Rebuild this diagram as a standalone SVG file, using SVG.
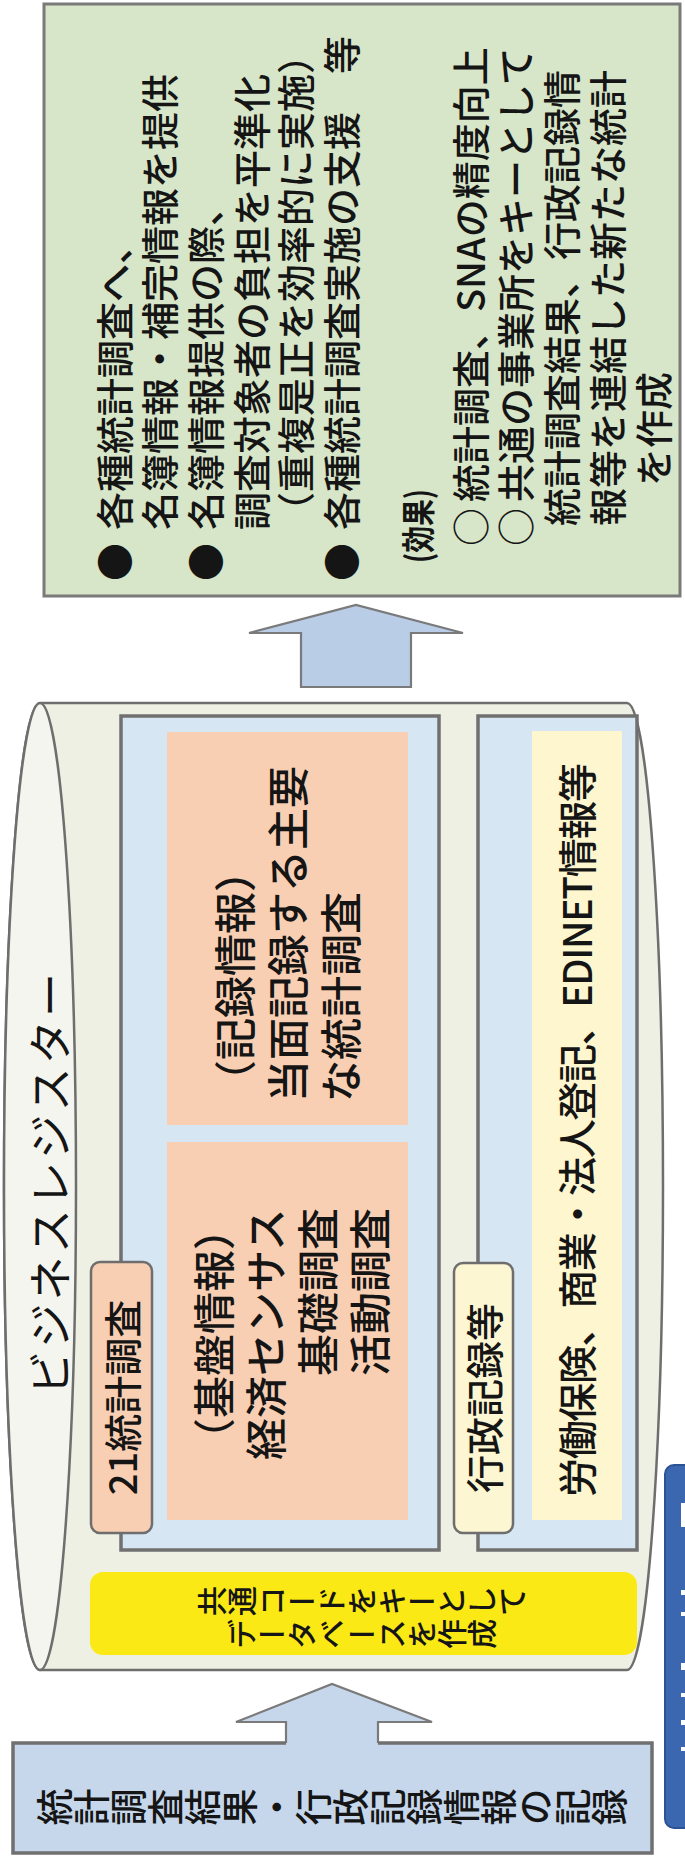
<svg xmlns="http://www.w3.org/2000/svg" width="685" height="1865" viewBox="0 0 685 1865">
<style>
.t{font-family:"Noto Sans CJK JP","Noto Sans CJK SC",sans-serif;fill:#151515;font-weight:500}
.v{writing-mode:vertical-rl;text-anchor:middle}
.box{stroke:#707070;stroke-width:3.5}
.arrow{fill:#b9cde6;stroke:#7a7a7a;stroke-width:2.2}
</style>
<rect width="685" height="1865" fill="#ffffff"/>

<g id="effects">
  <rect x="44" y="4" width="636" height="592" fill="#d7e5c8" stroke="#7a7a7a" stroke-width="3"/>
  <g transform="matrix(0,-1,1,0,0,1865)" class="t" font-size="38">
    <text x="1284" y="128.5">●</text>
    <text x="1335" y="128.5">各種統計調査へ、</text>
    <text x="1335" y="173.5">名簿情報・補完情報を提供</text>
    <text x="1284" y="219.5">●</text>
    <text x="1335" y="219.5">名簿情報提供の際、</text>
    <text x="1335" y="265.5">調査対象者の負担を平準化</text>
    <text x="1335" y="309.5">（重複是正を効率的に実施）</text>
    <text x="1284" y="355.5">●</text>
    <text x="1335" y="355.5">各種統計調査実施の支援　等</text>
    <text x="1302" y="431" font-size="34" font-weight="bold" textLength="74" lengthAdjust="spacingAndGlyphs">(効果)</text>
    <text x="1319" y="484.5">○</text>
    <text x="1363" y="484.5">統計調査、SNAの精度向上</text>
    <text x="1319" y="529.5">○</text>
    <text x="1363" y="529.5">共通の事業所をキーとして</text>
    <text x="1339" y="575.5">統計調査結果、行政記録情</text>
    <text x="1339" y="621.5">報等を連結した新たな統計</text>
    <text x="1379" y="667.5">を作成</text>
  </g>
</g>

<g id="connectors">
  <polygon class="arrow" points="301,687 301,633 249,633 356,605 463,633 411,633 411,687"/>
  <polygon points="286,1746 286,1722 236,1722 332,1684 432,1722 378,1722 378,1746" fill="#c6d7eb"/>
  <polyline points="286,1743 286,1722 236,1722 332,1684 432,1722 378,1722 378,1743" fill="none" stroke="#7a7a7a" stroke-width="2.2"/>
</g>

<g id="business-register">
  <path d="M40,703 H627 A36,483.5 0 0 1 627,1670 H40 A36,483.5 0 0 1 40,703 Z" fill="#eef0e4" stroke="#6e6e6e" stroke-width="2.5"/>
  <ellipse cx="40" cy="1186.5" rx="36" ry="483.5" fill="#f5f5ef" stroke="#6e6e6e" stroke-width="2.5"/>
  <g transform="matrix(0,-1,1,0,0,1865)" class="t">
    <text x="470" y="67" font-size="44" font-weight="400" textLength="422" lengthAdjust="spacing">ビジネスレジスター</text>
  </g>
</g>

<g id="statistical-surveys">
  <rect class="box" x="121" y="716" width="318" height="834" fill="#d6e6f2"/>
  <rect x="167" y="732" width="241" height="393" fill="#f9cfb3"/>
  <rect x="167" y="1142" width="241" height="378" fill="#f9cfb3"/>
  <rect x="91" y="1262" width="61" height="271" rx="9" fill="#f9cfb3" stroke="#6e6e6e" stroke-width="2.5"/>
  <g transform="matrix(0,-1,1,0,0,1865)" class="t" font-size="42">
    <text x="763" y="251">（記録情報）</text>
    <text x="763" y="304">当面記録する主要</text>
    <text x="763" y="357">な統計調査</text>
    <text x="405" y="230">（基盤情報）</text>
    <text x="405" y="282">経済センサス</text>
    <text x="489" y="334">基礎調査</text>
    <text x="489" y="386">活動調査</text>
    <text x="467.5" y="137" font-size="38" text-anchor="middle">21統計調査</text>
  </g>
</g>

<g id="admin-records">
  <rect class="box" x="478" y="716" width="159" height="834" fill="#d6e6f2"/>
  <rect x="532" y="731" width="90" height="789" fill="#fdf6cf"/>
  <rect x="454" y="1263" width="59" height="270" rx="9" fill="#fdf6d2" stroke="#6e6e6e" stroke-width="2.5"/>
  <g transform="matrix(0,-1,1,0,0,1865)" class="t">
    <text x="467" y="499" font-size="38" text-anchor="middle">行政記録等</text>
    <text x="368" y="592" font-size="39" textLength="734" lengthAdjust="spacing">労働保険、商業・法人登記、EDINET情報等</text>
  </g>
</g>

<g id="common-code">
  <rect x="90" y="1572" width="547" height="83" rx="13" fill="#fbe915"/>
  <g transform="matrix(0,-1,1,0,0,1865)" class="t" font-size="30">
    <text class="v" x="264" y="362">共通コードをキーとして</text>
    <text class="v" x="231" y="362">データベースを作成</text>
  </g>
</g>

<g id="source-records">
  <path d="M286,1743 H13 V1853 H652 V1743 H378" fill="#c6d7eb" class="box"/>
  <g transform="matrix(0,-1,1,0,0,1865)" class="t" font-size="37">
    <text class="v" x="58" y="332">統計調査結果・行政記録情報の記録</text>
  </g>
</g>

<g id="side-label">
  <rect x="665" y="1465" width="40" height="363" rx="9" fill="#3a67b0" stroke="#2c5296" stroke-width="2"/>
  <g fill="#ffffff">
    <rect x="681" y="1503" width="4" height="24"/>
    <rect x="681" y="1590" width="4" height="5"/>
    <rect x="681" y="1612" width="4" height="4"/>
    <rect x="681" y="1663" width="4" height="7"/>
    <rect x="681" y="1693" width="4" height="4"/>
    <rect x="681" y="1720" width="4" height="5"/>
    <rect x="681" y="1747" width="4" height="4"/>
  </g>
</g>
</svg>
